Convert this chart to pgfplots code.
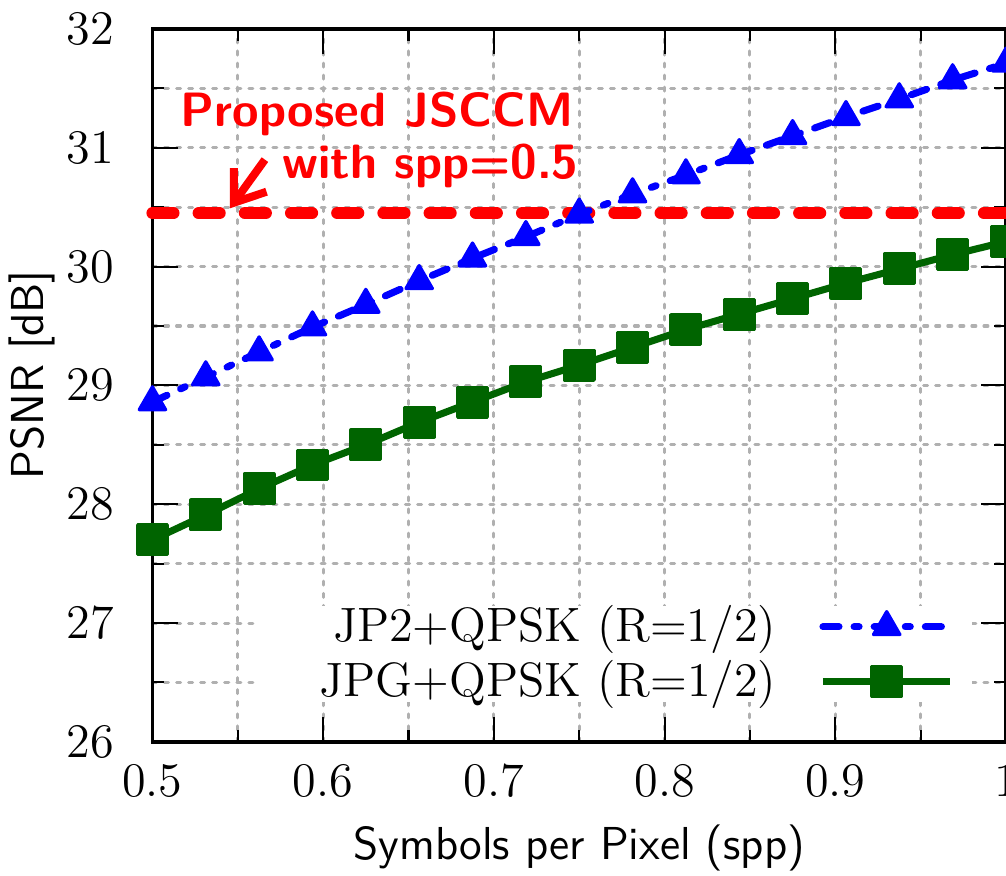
\documentclass[border=0pt]{standalone}
\usepackage{pgfplots}
\pgfplotsset{compat=1.18}
\usetikzlibrary{arrows.meta}
\definecolor{dgreen}{RGB}{0,100,0}
\definecolor{gridgray}{RGB}{176,176,176}
\begin{document}
\begin{tikzpicture}[trim axis right]
\begin{axis}[
  scale only axis,
  width=212.5pt, height=177.5pt,
  xmin=0.5, xmax=1, ymin=26, ymax=32,
  xtick={0.5,0.6,0.7,0.8,0.9,1},
  xticklabels={0.5,0.6,0.7,0.8,0.9,1},
  ytick={26,27,28,29,30,31,32},
  minor x tick num=1, minor y tick num=1,
  grid=both,
  major grid style={gridgray, line width=0.75pt, dash pattern=on 1pt off 2pt, line cap=round},
  minor grid style={gridgray, line width=0.75pt, dash pattern=on 1pt off 2pt, line cap=round},
  major tick length=6.25pt, minor tick length=3pt,
  every tick/.style={black, line width=0.5pt},
  axis line style={line width=0.8pt},
  tick label style={font=\fontsize{12}{14}\selectfont},
  yticklabel style={xshift=-6pt},
  xticklabel style={yshift=-2pt},
  xlabel={Symbols per Pixel (spp)},
  ylabel={PSNR [dB]},
  label style={font=\sffamily\fontsize{11.5}{13}\selectfont},
  xlabel style={at={(axis description cs:0.5,-0.1648)}, anchor=base, inner sep=1pt},
  ylabel style={at={(axis description cs:-0.1407,0.515)}, anchor=center, inner sep=2.3pt},
  clip=false,
  legend plot pos=right,
  legend style={at={(0.9612,0.192)}, anchor=north east, draw=none, fill=white,
    inner xsep=4.5pt, inner ysep=0pt, row sep=3pt, column sep=10.75pt,
    font=\fontsize{12}{14}\selectfont, nodes={inner sep=0pt}},
  legend image code/.code={\draw[mark repeat=2,mark phase=2,#1] plot coordinates {(0pt,0pt) (15.875pt,0pt) (31.75pt,0pt)};},
]
\addplot[red, line width=3pt, dash pattern=on 5.25pt off 6.25pt, line cap=round, forget plot]
  coordinates {(0.5,30.45) (1,30.45)};
\addplot[blue, line width=1.75pt, dash pattern=on 4pt off 3.75pt on 1.25pt off 3.75pt, line cap=round, line join=round,
  mark=triangle*, mark size=3.8pt, mark options={solid, line width=0.8pt, line join=round}]
  coordinates {
  (0.5,28.86) (0.53125,29.07) (0.5625,29.28) (0.59375,29.49) (0.625,29.68) (0.65625,29.88)
  (0.6875,30.07) (0.71875,30.25) (0.75,30.44) (0.78125,30.61) (0.8125,30.77) (0.84375,30.94)
  (0.875,31.10) (0.90625,31.26) (0.9375,31.41) (0.96875,31.57) (1,31.71)};
\addplot[dgreen, line width=1.75pt, line join=round,
  mark=square*, mark size=3.7pt, mark options={solid, line width=0.8pt, line join=round}]
  coordinates {
  (0.5,27.70) (0.53125,27.91) (0.5625,28.13) (0.59375,28.33) (0.625,28.50) (0.65625,28.69)
  (0.6875,28.86) (0.71875,29.03) (0.75,29.17) (0.78125,29.32) (0.8125,29.47) (0.84375,29.60)
  (0.875,29.73) (0.90625,29.86) (0.9375,29.98) (0.96875,30.10) (1,30.21)};
\legend{\makebox[124.25pt][r]{JP2+QPSK (R=1/2)}, \makebox[124.25pt][r]{JPG+QPSK (R=1/2)}}
\node[anchor=base east, text=red, font=\sffamily\bfseries\fontsize{12}{14}\selectfont, inner sep=0pt]
  at (axis cs:0.7471,31.180) {Proposed JSCCM};
\node[anchor=base east, text=red, font=\sffamily\bfseries\fontsize{12}{14}\selectfont, inner sep=0pt]
  at (axis cs:0.7500,30.741) {with spp=0.5};
\draw[red, line width=2pt, -{Straight Barb[length=7pt, width=10pt]}]
  (axis cs:0.5659,30.90) -- (axis cs:0.5453,30.49);
\end{axis}
\end{tikzpicture}
\end{document}
